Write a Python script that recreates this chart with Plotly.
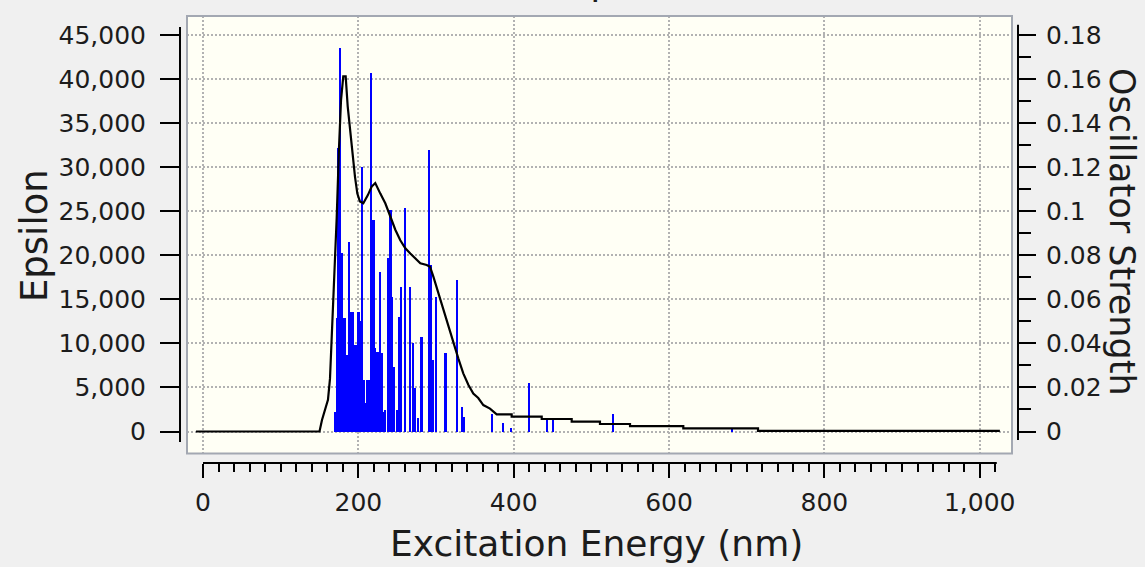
import plotly.graph_objects as go

# Excited-state transitions: wavelength (nm) and oscillator strength
wavelength_nm = [170.6, 172.5, 174.2, 176.4, 178.3, 180.3, 182.8, 184.3, 185.8, 188.0,
                 190.5, 191.8, 193.1, 194.4, 195.7, 197.0, 198.3, 199.6, 200.9, 202.6,
                 204.3, 206.6, 207.9, 209.2, 211.0, 212.8, 214.5, 216.3, 217.9, 219.5,
                 221.8, 223.5, 225.3, 226.6, 227.9, 229.2, 230.5, 232.6, 234.7, 237.8,
                 241.2, 243.3, 246.3, 249.8, 252.7, 255.3, 260.5, 266.9, 270.0, 273.3,
                 276.4, 281.3, 291.4, 293.6, 296.5, 300.0, 312.2, 327.4, 333.1, 336.0,
                 372.1, 386.6, 396.2, 419.7, 443.3, 450.2, 527.5, 680.7]
osc_strength = [0.009, 0.0515, 0.1287, 0.174, 0.081, 0.0515, 0.0515, 0.0347, 0.0347, 0.0862,
                0.0544, 0.0544, 0.0544, 0.0393, 0.0393, 0.0393, 0.0393, 0.0544, 0.0544, 0.050,
                0.120, 0.0234, 0.013, 0.013, 0.0234, 0.0234, 0.0234, 0.1626, 0.096, 0.096,
                0.0379, 0.036, 0.0361, 0.035, 0.0724, 0.035, 0.0356, 0.009, 0.0098, 0.0788,
                0.1006, 0.0611, 0.0293, 0.0098, 0.052, 0.0656, 0.1015, 0.0656, 0.0402, 0.0197,
                0.0061, 0.0429, 0.1278, 0.0756, 0.0325, 0.061, 0.0356, 0.0688, 0.0111, 0.0066,
                0.0079, 0.0039, 0.0016, 0.022, 0.0052, 0.0052, 0.0079, 0.0011]

# Broadened absorption curve: wavelength (nm) and molar absorptivity
curve_nm = [-9, 150.0, 153.2, 157.1, 160.9, 163.5, 166.1, 168.0, 170.0, 172.1,
            175.1, 177.7, 180.6, 183.7, 186.3, 189.3, 192.2, 195.7, 198.7, 202.1,
            206.4, 212.1, 217.2, 221.8, 228.3, 234.7, 241.2, 247.6, 254.0, 260.5,
            266.9, 273.3, 279.8, 288.0, 292.3, 296.5, 302.9, 309.4, 315.8, 322.3,
            328.7, 335.1, 341.6, 348.0, 354.4, 360.9, 369.5, 378.1, 397.4, 397.4,
            436.1, 436.1, 474.7, 474.7, 511.1, 511.1, 549.8, 549.8, 618.4, 618.4,
            714.6, 714.6, 1026]
curve_eps = [0, 0, 1300, 2400, 3600, 6000, 11000, 15700, 20000, 24200,
             32200, 37600, 40300, 40300, 36900, 34200, 31200, 28900, 27000, 26100,
             25900, 26800, 27800, 28200, 27000, 25900, 24400, 22900, 21700, 20800,
             20200, 19700, 19100, 18900, 18700, 17600, 15700, 13800, 11900, 10200,
             8300, 6600, 5300, 4300, 3800, 3000, 2600, 1950, 1950, 1680,
             1680, 1420, 1420, 1110, 1110, 850, 850, 620, 620, 360,
             360, 60, 60]

# Axis ticks
eps_ticks = [0, 5000, 10000, 15000, 20000, 25000, 30000, 35000, 40000, 45000]
osc_ticks = [0, 0.02, 0.04, 0.06, 0.08, 0.1, 0.12, 0.14, 0.16, 0.18]
osc_labels = ["0", "0.02", "0.04", "0.06", "0.08", "0.1", "0.12", "0.14", "0.16", "0.18"]
osc_minor = [0.01, 0.03, 0.05, 0.07, 0.09, 0.11, 0.13, 0.15, 0.17]
nm_ticks = [0, 200, 400, 600, 800, 1000]
nm_minor = [v for v in range(20, 1021, 20) if v % 200 != 0]

EPS_PER_F = 250000.0
eps_range = [-2497, 47156]
osc_range = [eps_range[0] / EPS_PER_F, eps_range[1] / EPS_PER_F]

FONT = "DejaVu Sans"
INK = "#1c1c1c"
GRID = "#b2b2b2"

fig = go.Figure()

fig.add_trace(go.Bar(
    x=wavelength_nm, y=osc_strength, width=3.0,
    marker=dict(color="#0000ff", line=dict(width=0)),
    yaxis="y", showlegend=False,
))
fig.add_trace(go.Scatter(
    x=curve_nm, y=curve_eps, mode="lines",
    line=dict(color="black", width=2.2),
    yaxis="y2", showlegend=False,
))

tick_font = dict(family=FONT, size=25, color=INK)

fig.update_layout(
    width=1145, height=567,
    margin=dict(l=180, r=127, t=16, b=104),
    paper_bgcolor="#f0f0f0",
    plot_bgcolor="#fffff5",
    bargap=0,
    xaxis=dict(
        domain=[7 / 838, 832 / 838],
        range=[-20.6, 1041.6],
        anchor="free", position=0,
        tickvals=nm_ticks, tickformat=",",
        ticks="outside", ticklen=14, tickwidth=2, tickcolor="black",
        ticklabelstandoff=3,
        minor=dict(tickvals=nm_minor, ticks="outside", ticklen=8, tickwidth=2,
                   tickcolor="black", showgrid=False),
        showgrid=True, gridcolor=GRID, gridwidth=1.5, griddash="1.5px,2.5px",
        zeroline=False, showline=False,
        tickfont=tick_font,
    ),
    yaxis=dict(
        domain=[9.5 / 447, 1],
        range=osc_range,
        side="right", anchor="free", position=1,
        tickvals=osc_ticks, ticktext=osc_labels,
        ticks="outside", ticklen=17, tickwidth=2, tickcolor="black",
        ticklabelstandoff=5,
        minor=dict(tickvals=osc_minor, ticks="outside", ticklen=12, tickwidth=2,
                   tickcolor="black", showgrid=False),
        showgrid=True, gridcolor=GRID, gridwidth=1.5, griddash="1.5px,2.5px",
        zeroline=False, showline=False,
        tickfont=tick_font,
    ),
    yaxis2=dict(
        overlaying="y",
        range=eps_range,
        side="left", anchor="free", position=0,
        tickvals=eps_ticks, tickformat=",",
        ticks="outside", ticklen=20, tickwidth=2, tickcolor="black",
        ticklabelstandoff=9,
        showgrid=False, zeroline=False, showline=False,
        tickfont=tick_font,
    ),
    shapes=[
        # plot frame
        dict(type="rect", xref="x domain", yref="y domain", x0=0, x1=1, y0=0, y1=1,
             line=dict(color="#a3a8b2", width=2), layer="above"),
        # detached axis lines
        dict(type="line", xref="paper", yref="y2", x0=0, x1=0, y0=-1192, y1=45908,
             line=dict(color="black", width=2)),
        dict(type="line", xref="paper", yref="y", x0=1, x1=1, y0=-0.0039, y1=0.1846,
             line=dict(color="black", width=2)),
        dict(type="line", xref="x", yref="paper", x0=0, x1=1022, y0=0, y1=0,
             line=dict(color="black", width=2)),
    ],
    annotations=[
        dict(text="Epsilon", xref="paper", yref="paper", x=-0.1742, y=0.5078,
             textangle=-90, showarrow=False, xanchor="center", yanchor="middle",
             font=dict(family=FONT, size=37, color=INK)),
        dict(text="Oscillator Strength", xref="paper", yref="paper", x=1.1242, y=0.5168,
             textangle=90, showarrow=False, xanchor="center", yanchor="middle",
             font=dict(family=FONT, size=35, color=INK)),
        dict(text="Excitation Energy (nm)", xref="paper", yref="paper", x=0.4976, y=-0.1790,
             showarrow=False, xanchor="center", yanchor="middle",
             font=dict(family=FONT, size=36, color=INK)),
        dict(text="UV-VIS Spectrum", xref="paper", yref="paper", x=0.4893, y=1.0246,
             showarrow=False, xanchor="center", yanchor="bottom",
             font=dict(family=FONT, size=37, color=INK)),
    ],
)

fig.write_html("out.html")
